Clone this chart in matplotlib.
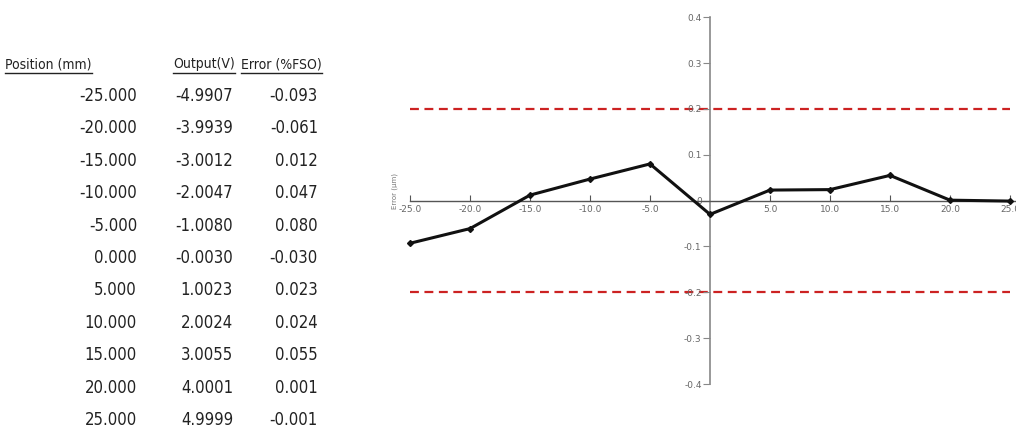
import numpy as np
import matplotlib.pyplot as plt
import matplotlib as mpl
from matplotlib.lines import Line2D

# data
position = [-25.0, -20.0, -15.0, -10.0, -5.0, 0.0, 5.0, 10.0, 15.0, 20.0, 25.0]
output_v = [-4.9907, -3.9939, -3.0012, -2.0047, -1.0080, -0.0030, 1.0023, 2.0024, 3.0055, 4.0001, 4.9999]
error_fso = [-0.093, -0.061, 0.012, 0.047, 0.080, -0.030, 0.023, 0.024, 0.055, 0.001, -0.001]
limit = 0.2
xticks = [-25, -20, -15, -10, -5, 5, 10, 15, 20, 25]
yticks = [-0.4, -0.3, -0.2, -0.1, 0, 0.1, 0.2, 0.3, 0.4]
headers = ['Position (mm)', 'Output(V)', 'Error (%FSO)']

W, H = 1016, 433
fig = plt.figure(figsize=(W / 100, H / 100), dpi=100)
tfont = ['DejaVu Sans']

def fx(px):
    return px / W
def fy(py):
    return 1 - py / H

# table on the left
tcol = '#222222'
hdr_x = [5, 235, 241]
hdr_ha = ['left', 'right', 'left']
htexts = []
for h, x0, ha in zip(headers, hdr_x, hdr_ha):
    t = fig.text(fx(x0), fy(64), h, ha=ha, va='center', fontsize=10, family=tfont,
                 fontstretch='condensed', color=tcol)
    htexts.append(t)

col_right = [137, 233, 318]
for i in range(len(position)):
    yy = fy(96 + i * 32.4)
    vals = ['%.3f' % position[i], '%.4f' % output_v[i], '%.3f' % error_fso[i]]
    for v, xr in zip(vals, col_right):
        fig.text(fx(xr), yy, v, ha='right', va='center', fontsize=12, family=tfont,
                 fontstretch='condensed', color=tcol)

# underline the headers
fig.canvas.draw()
r = fig.canvas.get_renderer()
for t in htexts:
    bb = t.get_window_extent(r)
    fig.add_artist(Line2D([bb.x0 / W, bb.x1 / W], [fy(73), fy(73)], color=tcol, lw=1))

# chart on the right
ax = fig.add_axes([386 / W, 26 / H, 630 / W, 399 / H])
ax.set_xlim(-27, 25.5)
ax.set_ylim(-0.45, 0.42)
for s in ['top', 'right']:
    ax.spines[s].set_visible(False)
ax.spines['left'].set_position(('data', 0))
ax.spines['bottom'].set_position(('data', 0))
ax.spines['left'].set_bounds(-0.4, 0.4)
ax.spines['bottom'].set_bounds(-25, 25.5)
ax.spines['left'].set_color('#888888')
ax.spines['bottom'].set_color('#555555')
ax.spines['left'].set_linewidth(1.2)
ax.spines['bottom'].set_linewidth(1.0)

ax.set_xticks(xticks)
ax.set_xticklabels(['%.1f' % v for v in xticks])
ax.set_yticks(yticks)
ax.set_yticklabels(['0' if v == 0 else '%.1f' % v for v in yticks])
ax.tick_params(axis='x', direction='in', length=4, labelsize=6.5, labelcolor='#666666', color='#555555', pad=3)
ax.tick_params(axis='y', direction='out', length=5, labelsize=6.5, labelcolor='#666666', color='#888888', pad=1)

ax.plot([position[0], position[-1]], [limit, limit], ls=(0, (4, 2.5)), color='#cc2222', lw=1.6, zorder=1)
ax.plot([position[0], position[-1]], [-limit, -limit], ls=(0, (4, 2.5)), color='#cc2222', lw=1.6, zorder=1)
ax.plot(position, error_fso, color='#111111', lw=2.2, marker='D', ms=3, zorder=3)

ax.text(-26.3, 0.02, 'Error (\u00b5m)', rotation=90, fontsize=5, color='#777777', ha='center', va='center')

fig.savefig('out.png', dpi=100)
